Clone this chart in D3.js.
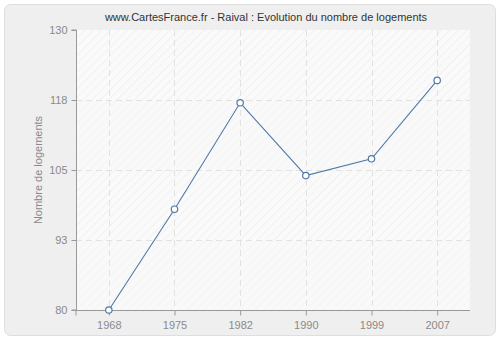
<!DOCTYPE html>
<html>
<head>
<meta charset="utf-8">
<script src="https://cdn.jsdelivr.net/npm/d3@7"></script>
<style>
  html, body { margin: 0; padding: 0; background: #ffffff; }
  svg { display: block; font-family: "Liberation Sans", Arial, sans-serif; }
</style>
</head>
<body>
<svg id="chart" width="500" height="340"></svg>
<script>
// Housing count in Raival by census year
const years = ["1968", "1975", "1982", "1990", "1999", "2007"];
const logements = [80, 98, 117, 104, 107, 121];
const yTicks = [80, 92.5, 105, 117.5, 130];
const yTickLabels = ["80", "93", "105", "118", "130"];
const title = "www.CartesFrance.fr - Raival : Evolution du nombre de logements";
const yTitle = "Nombre de logements";

const svg = d3.select("#chart");
const margin = { left: 76, right: 30, top: 30, bottom: 30 };
const W = 500, H = 340;
const plotW = W - margin.left - margin.right;
const plotH = H - margin.top - margin.bottom;
const font = "Liberation Sans, Arial, sans-serif";

// Hatch patterns for the plot background bands
const defs = svg.append("defs");
function hatch(id, bg, stroke) {
  const p = defs.append("pattern")
    .attr("id", id).attr("patternUnits", "userSpaceOnUse")
    .attr("width", 6).attr("height", 6)
    .attr("patternTransform", "rotate(45)");
  p.append("rect").attr("width", 6).attr("height", 6).attr("fill", bg);
  p.append("line").attr("x1", 0).attr("y1", 0).attr("x2", 0).attr("y2", 6)
    .attr("stroke", stroke).attr("stroke-width", 1.2);
}
hatch("hatchA", "#fafafa", "#ebebeb");
hatch("hatchB", "#f9f9f9", "#f1f1f1");

// Outer panel
svg.append("rect")
  .attr("x", 4.5).attr("y", 4.5).attr("width", 491).attr("height", 331)
  .attr("rx", 6).attr("ry", 6)
  .attr("fill", "#efefef").attr("stroke", "#dedede");

svg.append("text")
  .attr("x", 266).attr("y", 21)
  .attr("text-anchor", "middle")
  .attr("font-size", 11).attr("fill", "#333")
  .text(title);

const x = d3.scalePoint().domain(years).range([0, plotW]).padding(0.5);
const y = d3.scaleLinear().domain([80, 130]).range([plotH, 0]);

const g = svg.append("g").attr("transform", `translate(${margin.left},${margin.top})`);

// Background bands between successive ticks
const bands = d3.pairs(yTicks);
g.selectAll("rect.band").data(bands).join("rect")
  .attr("class", "band")
  .attr("x", 0).attr("width", plotW)
  .attr("y", d => y(d[1])).attr("height", d => y(d[0]) - y(d[1]))
  .attr("fill", (d, i) => (bands.length - 1 - i) % 2 === 0 ? "url(#hatchA)" : "url(#hatchB)");

// Dashed grid
g.selectAll("line.hgrid").data(yTicks.slice(1, -1)).join("line")
  .attr("x1", 0).attr("x2", plotW)
  .attr("y1", d => Math.round(y(d)) + 0.5).attr("y2", d => Math.round(y(d)) + 0.5)
  .attr("stroke", "#e2e2e2").attr("stroke-dasharray", "6,4");
g.selectAll("line.vgrid").data(years).join("line")
  .attr("x1", d => Math.round(x(d)) + 0.5).attr("x2", d => Math.round(x(d)) + 0.5)
  .attr("y1", 0).attr("y2", plotH)
  .attr("stroke", "#e2e2e2").attr("stroke-dasharray", "6,4");

// Axes
const yAxis = d3.axisLeft(y).tickValues(yTicks).tickSize(5).tickPadding(4)
  .tickFormat((d, i) => yTickLabels[i]);
const xAxis = d3.axisBottom(x).tickSize(5).tickPadding(6);

const ya = g.append("g").attr("transform", "translate(0.5,0)").call(yAxis);
const xa = g.append("g").attr("transform", `translate(0,${plotH + 0.5})`).call(xAxis);
[ya, xa].forEach(a => {
  a.select(".domain").attr("stroke", "#999");
  a.selectAll(".tick line").attr("stroke", "#999");
  a.selectAll(".tick text").attr("fill", "#8a8a8a").attr("font-size", 11)
    .attr("font-family", font);
});
ya.select(".domain").attr("d", `M-5,${plotH}H0V0H-5`);
xa.select(".domain").attr("d", `M0,5V0H${plotW}V0`);

svg.append("text")
  .attr("transform", `translate(42,${margin.top + plotH / 2}) rotate(-90)`)
  .attr("text-anchor", "middle")
  .attr("font-size", 11).attr("fill", "#8a8a8a")
  .text(yTitle);

// Series
const line = d3.line().x((d, i) => x(years[i])).y(d => y(d));
g.append("path").datum(logements)
  .attr("d", line).attr("fill", "none")
  .attr("stroke", "#4f79a8").attr("stroke-width", 1.1);
g.selectAll("circle.pt").data(logements).join("circle")
  .attr("class", "pt")
  .attr("cx", (d, i) => x(years[i])).attr("cy", d => y(d))
  .attr("r", 3.2)
  .attr("fill", "#fff").attr("stroke", "#4f79a8").attr("stroke-width", 1.2);
</script>
</body>
</html>
